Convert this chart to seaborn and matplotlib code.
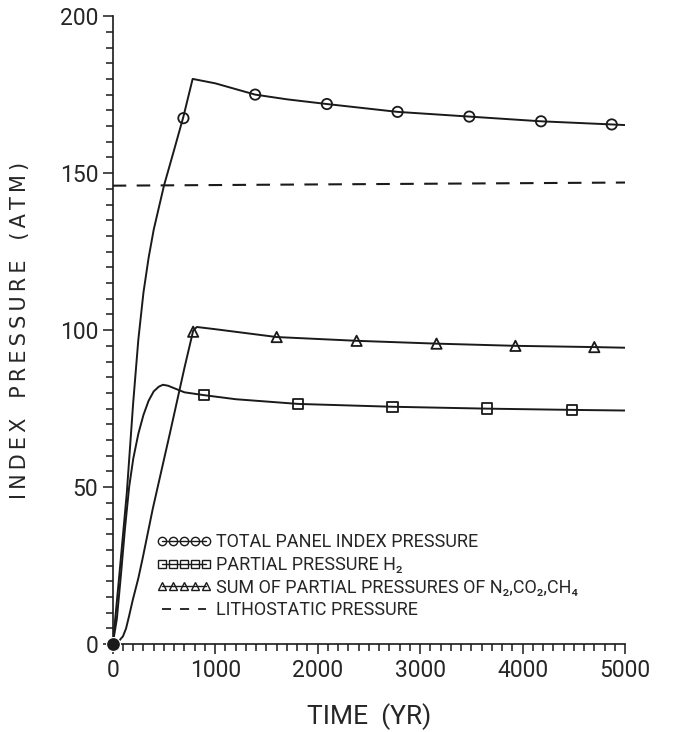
import matplotlib
matplotlib.use("Agg")
import matplotlib.pyplot as plt
import seaborn as sns
from matplotlib.lines import Line2D
from matplotlib.ticker import MultipleLocator

# curves (years, atm)
total_x = [0, 30, 70, 137, 200, 250, 300, 350, 400, 500, 600, 690, 780, 1000, 1390, 1700, 2090, 2780, 3480, 4180, 4870, 5000]
total_y = [0, 10, 24, 48, 77, 97, 112, 123, 132, 146, 157.5, 168, 180, 178.6, 175, 173.5, 172, 169.5, 168, 166.5, 165.5, 165.3]
total_mx = [690, 1390, 2090, 2780, 3480, 4180, 4870]
total_my = [167.5, 175, 172, 169.5, 168, 166.5, 165.5]

h2_x = [0, 40, 80, 120, 160, 200, 250, 300, 350, 400, 450, 490, 540, 600, 700, 890, 1200, 1810, 2730, 3650, 4480, 5000]
h2_y = [0, 8, 22, 37, 50, 59, 67, 73, 77.5, 80.5, 82, 82.6, 82.3, 81.5, 80.2, 79.3, 78, 76.5, 75.6, 75, 74.6, 74.4]
h2_mx = [890, 1810, 2730, 3650, 4480]
h2_my = [79.3, 76.5, 75.6, 75, 74.6]

n2_x = [0, 60, 100, 130, 160, 195, 250, 293, 390, 557, 700, 785, 820, 1000, 1600, 2380, 3160, 3930, 4700, 5000]
n2_y = [0, 1, 2.5, 5, 9, 14, 21, 27.5, 43, 67, 88, 99.8, 101, 100.3, 97.8, 96.6, 95.7, 95, 94.6, 94.4]
n2_mx = [785, 1600, 2380, 3160, 3930, 4700]
n2_my = [99.5, 97.8, 96.6, 95.7, 95, 94.6]

litho_x = [0, 5000]
litho_y = [146, 147]

labels = ["TOTAL PANEL INDEX PRESSURE",
          "PARTIAL PRESSURE H\u2082",
          "SUM OF PARTIAL PRESSURES OF N\u2082,CO\u2082,CH\u2084",
          "LITHOSTATIC PRESSURE"]

sns.set_style("ticks")
plt.rcParams['font.family'] = ['Roboto', 'DejaVu Sans']
ink = "#1a1a1a"
txt = "#262626"

fig = plt.figure(figsize=(6.75, 7.32), dpi=100)
ax = fig.add_axes([0.167, 0.120, 0.759, 0.858])

lw = 1.4
sns.lineplot(x=total_x, y=total_y, ax=ax, color=ink, lw=lw, estimator=None, sort=False)
sns.lineplot(x=h2_x, y=h2_y, ax=ax, color=ink, lw=lw, estimator=None, sort=False)
sns.lineplot(x=n2_x, y=n2_y, ax=ax, color=ink, lw=lw, estimator=None, sort=False)
sns.lineplot(x=litho_x, y=litho_y, ax=ax, color=ink, lw=1.5, estimator=None, sort=False)
ax.lines[-1].set_dashes((6.5, 5))

mk = dict(ax=ax, facecolor="none", edgecolor=ink, linewidth=1.3, s=55, zorder=5)
sns.scatterplot(x=total_mx, y=total_my, marker="o", **mk)
sns.scatterplot(x=h2_mx, y=h2_my, marker="s", **mk)
sns.scatterplot(x=n2_mx, y=n2_my, marker="^", **mk)
sns.scatterplot(x=[0], y=[0], ax=ax, color=ink, s=100, zorder=6, clip_on=False)

ax.set_xlim(0, 5000)
ax.set_ylim(0, 200)
ax.xaxis.set_major_locator(MultipleLocator(1000))
ax.xaxis.set_minor_locator(MultipleLocator(100))
ax.yaxis.set_major_locator(MultipleLocator(50))
ax.yaxis.set_minor_locator(MultipleLocator(5))
ax.tick_params(which="both", direction="out", color=ink, width=1.1, labelsize=16.5, labelcolor=txt)
ax.tick_params(which="major", length=7)
ax.tick_params(which="minor", length=5)
sns.despine(ax=ax)
for s in ("left", "bottom"):
    ax.spines[s].set_color(ink)
    ax.spines[s].set_linewidth(1.2)

# spaced-out axis titles, like the plotter lettering
ylab = "   ".join("\u2009".join(w) for w in ["INDEX", "PRESSURE", "(ATM)"])
ax.set_xlabel("TIME  (YR)", fontsize=19, color=txt)
ax.set_ylabel(ylab, fontsize=15, color=txt, family=["DejaVu Sans"])
ax.xaxis.set_label_coords(0.5, -0.094)
ax.yaxis.set_label_coords(-0.162, 0.5)

handles = [
    Line2D([], [], color=ink, lw=1, marker="o", mfc="none", ms=6),
    Line2D([], [], color=ink, lw=1, marker="s", mfc="none", ms=6),
    Line2D([], [], color=ink, lw=1, marker="^", mfc="none", ms=6),
    Line2D([], [], color=ink, lw=1.3, ls=(0, (5, 5))),
]
ax.legend(handles, labels, loc="lower left", bbox_to_anchor=(0.086, 0.04), frameon=False,
          numpoints=5, handlelength=3.0, handletextpad=0.3, labelspacing=0.25,
          borderpad=0, borderaxespad=0, fontsize=13, labelcolor=txt)

fig.savefig("out.png", dpi=100)
